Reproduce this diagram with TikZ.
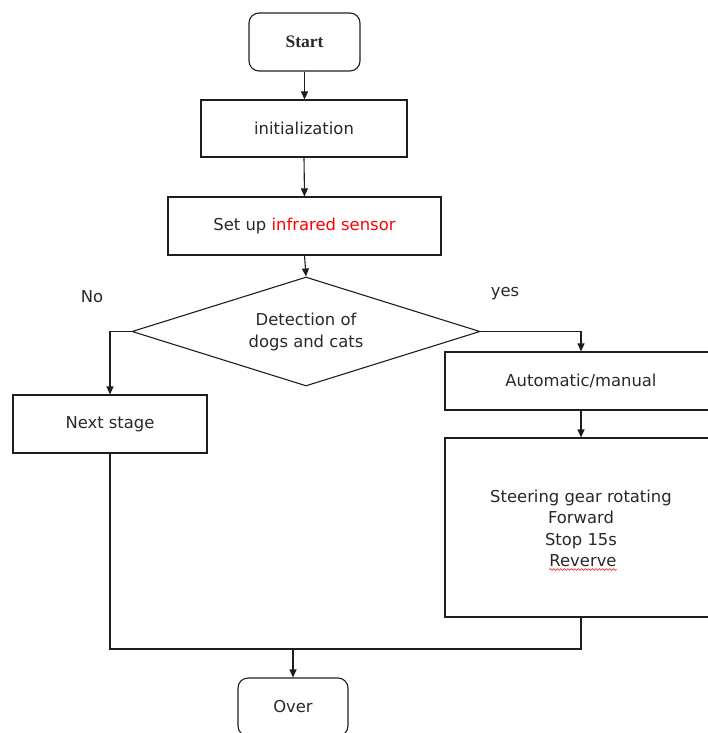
\documentclass[tikz,border=0pt]{standalone}
\usepackage{fontspec}
\setmainfont{DejaVu Sans}
\newfontfamily\startfont{Liberation Serif}
\usetikzlibrary{shapes.geometric,arrows.meta,decorations.pathmorphing}
\definecolor{txt}{RGB}{40,40,40}
\definecolor{ln}{RGB}{30,30,30}
\begin{document}
\begin{tikzpicture}[x=1pt,y=-1pt,
  every node/.style={font=\fontsize{16.4}{22}\selectfont, text=txt, align=center},
  box/.style={draw=ln, line width=1.1pt, rectangle, inner sep=0pt},
  term/.style={box, rounded corners=10pt},
  dec/.style={draw=ln, line width=1.1pt, diamond, aspect=3.2, inner sep=0pt, minimum width=348pt, minimum height=109pt},
  lab/.style={inner sep=0pt},
  bl/.style={inner sep=0pt, anchor=base},
  conn/.style={draw=ln, line width=1.1pt},
  arr/.style={conn, -{Triangle[length=8pt,width=7pt]}}]
\useasboundingbox (0,0) rectangle (707,733);
\node[term, minimum width=111pt, minimum height=58pt, font=\startfont\bfseries\fontsize{17.5}{20}\selectfont] (start) at (304.5,42) {Start};
\node[box, minimum width=206pt, minimum height=57pt] (init) at (304,128.5) {initialization};
\node[box, minimum width=273pt, minimum height=58pt] (setup) at (304.5,226) {Set up \textcolor{red}{infrared sensor}};
\node[dec] (dia) at (306,331.5) {Detection of\\dogs and cats};
\node[box, minimum width=194pt, minimum height=58pt] (next) at (110,424) {Next stage};
\node[box, minimum width=272pt, minimum height=58pt] (auto) at (581,381) {Automatic/manual};
\node[box, minimum width=272pt, minimum height=179pt] (big) at (581,527.5) {};
\node[bl] (t1) at (581,502) {Steering gear rotating};
\node[bl] (t2) at (581,523.5) {Forward};
\node[bl] (t3) at (581,545) {Stop 15s};
\node[bl] (t4) at (583,566.5) {Reverve};
\draw[red, line width=0.6pt, decorate, decoration={snake, amplitude=0.9pt, segment length=3.5pt}] ([yshift=-3pt]t4.base west) -- ([yshift=-3pt]t4.base east);
\node[term, minimum width=110pt, minimum height=58pt] (over) at (293,707) {Over};
\node[lab] (no) at (92,297) {No};
\node[lab] (yes) at (505,294) {yes};
\coordinate (m) at (293,649);
\draw[arr] (start.south) -- (start.south |- init.north);
\draw[arr] (init.south) -- (setup.north);
\draw[arr] (setup.south) -- (dia.north);
\draw[arr] (dia.west) -| (next.north);
\draw[arr] (dia.east) -| (auto.north);
\draw[arr] (auto.south) -- (big.north);
\draw[conn] (next.south) |- (m);
\draw[conn] (big.south) |- (m);
\draw[arr] (m) -- (over.north);
\end{tikzpicture}
\end{document}
